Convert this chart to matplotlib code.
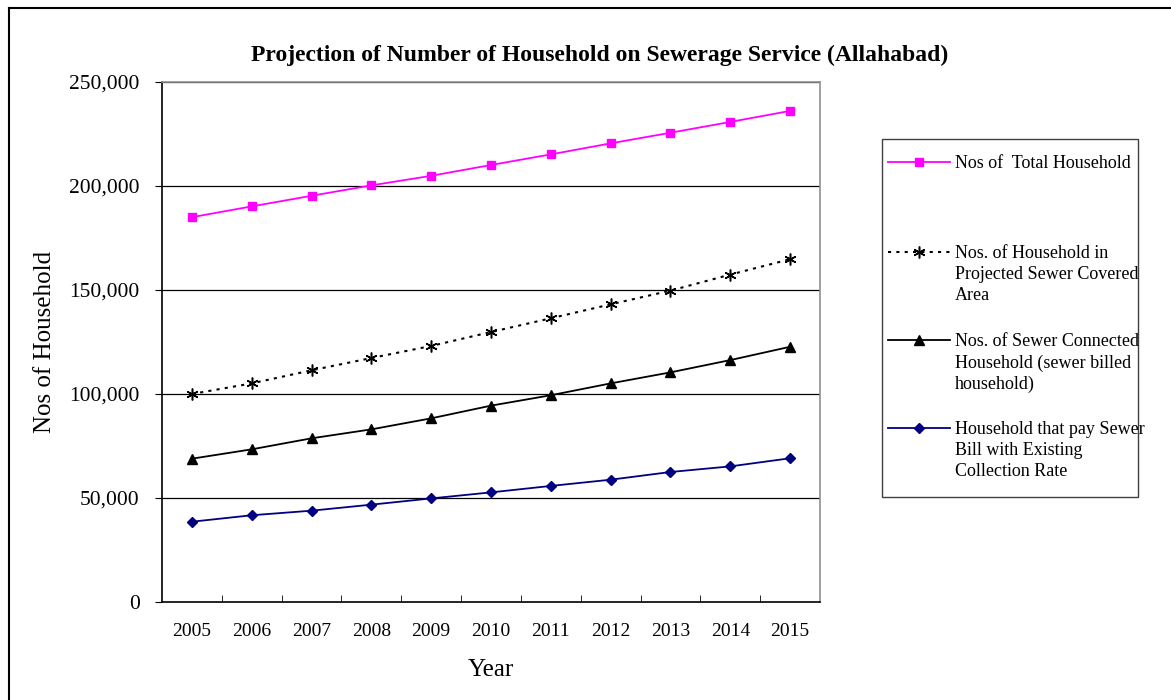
import matplotlib
matplotlib.use("Agg")
import matplotlib.pyplot as plt
from matplotlib.ticker import FuncFormatter, FixedLocator
from matplotlib.lines import Line2D
from matplotlib.patches import Rectangle
import numpy as np

plt.rcParams['font.family'] = ['Liberation Serif', 'DejaVu Serif']

years = ['2005', '2006', '2007', '2008', '2009', '2010', '2011', '2012', '2013', '2014', '2015']
total_hh = [185000, 190200, 195300, 200300, 204900, 210100, 215200, 220500, 225600, 230800, 236100]
covered_hh = [100000, 105100, 111400, 117300, 123100, 129800, 136400, 143100, 149700, 157400, 164800]
connected_hh = [68900, 73400, 78700, 83000, 88300, 94400, 99400, 105100, 110400, 116300, 122700]
paying_hh = [38600, 41700, 43900, 46800, 49800, 52700, 55800, 58800, 62500, 65200, 69100]

labels = ['Nos of  Total Household',
          'Nos. of Household in\nProjected Sewer Covered\nArea',
          'Nos. of Sewer Connected\nHousehold (sewer billed\nhousehold)',
          'Household that pay Sewer\nBill with Existing\nCollection Rate']

styles = [
    dict(color='#ff00ff', lw=1.3, ls='-', marker='s', ms=6),
    dict(color='black', lw=1.5, ls=(0, (1.5, 2.5)), marker=(6, 2, 0), ms=8.5, mew=1.1),
    dict(color='black', lw=1.3, ls='-', marker='^', ms=7),
    dict(color='#000080', lw=1.3, ls='-', marker='D', ms=5.5),
]

W, H = 1171, 700
fig = plt.figure(figsize=(W / 100, H / 100), dpi=100)
ax = fig.add_axes([162 / W, 1 - 602 / H, (820 - 162) / W, (602 - 82) / H])

x = np.arange(len(years))
for series, st in zip([total_hh, covered_hh, connected_hh, paying_hh], styles):
    ax.plot(x, series, **st)

ax.set_xlim(-0.5, len(years) - 0.5)
ax.set_ylim(0, 250000)
ax.set_yticks(np.arange(0, 250001, 50000))
ax.yaxis.set_major_formatter(FuncFormatter(lambda v, p: f'{int(v):,}'))
ax.set_xticks(x)
ax.set_xticklabels(years)
ax.xaxis.set_minor_locator(FixedLocator(np.arange(0.5, len(years) - 1, 1)))
ax.tick_params(axis='x', which='major', length=0, pad=15, labelsize=14)
ax.tick_params(axis='x', which='minor', direction='in', length=5, color='black')
ax.tick_params(axis='y', direction='out', length=5, labelsize=15.5, pad=11)

for v in range(50000, 250001, 50000):
    ax.axhline(v, color='black', lw=0.9, zorder=0)

ax.spines['left'].set_color('black')
ax.spines['bottom'].set_color('black')
ax.spines['top'].set_color('#909090')
ax.spines['right'].set_color('#909090')
for s in ax.spines.values():
    s.set_linewidth(1.2)

ax.set_xlabel('Year', fontsize=18)
ax.set_ylabel('Nos of Household', fontsize=18)
ax.xaxis.set_label_coords(0.5, (602 - 659) / 520)
ax.yaxis.set_label_coords((56 - 162) / 658, 0.5)
fig.text(600 / W, 1 - 55 / H, 'Projection of Number of Household on Sewerage Service (Allahabad)',
         ha='center', va='center', fontsize=17, fontweight='bold')

# outer chart frame (top and left edges only visible)
fig.add_artist(Line2D([9 / W, 1.0], [1 - 8 / H, 1 - 8 / H], color='black', lw=1.5))
fig.add_artist(Line2D([9 / W, 9 / W], [1 - 8 / H, 0.0], color='black', lw=1.5))

# legend box drawn by hand so multi-line labels align with the top line
fig.add_artist(Rectangle((882 / W, 1 - 497 / H), (1138 - 882) / W, (497 - 139) / H,
                         transform=fig.transFigure, fill=False, ec='#404040', lw=1.0))
entry_y = [162, 252, 340, 428]
for lab, st, yy in zip(labels, styles, entry_y):
    fy = 1 - yy / H
    fig.add_artist(Line2D([888 / W, 950 / W], [fy, fy], color=st['color'], lw=st['lw'], ls=st['ls']))
    fig.add_artist(Line2D([919 / W], [fy], color=st['color'], marker=st['marker'], ms=st['ms'],
                          mew=st.get('mew', 1.0), ls='none'))
    fig.text(955 / W, fy + 7 / H, lab, ha='left', va='top', fontsize=13, linespacing=1.32)

fig.savefig('out.png', dpi=100)
